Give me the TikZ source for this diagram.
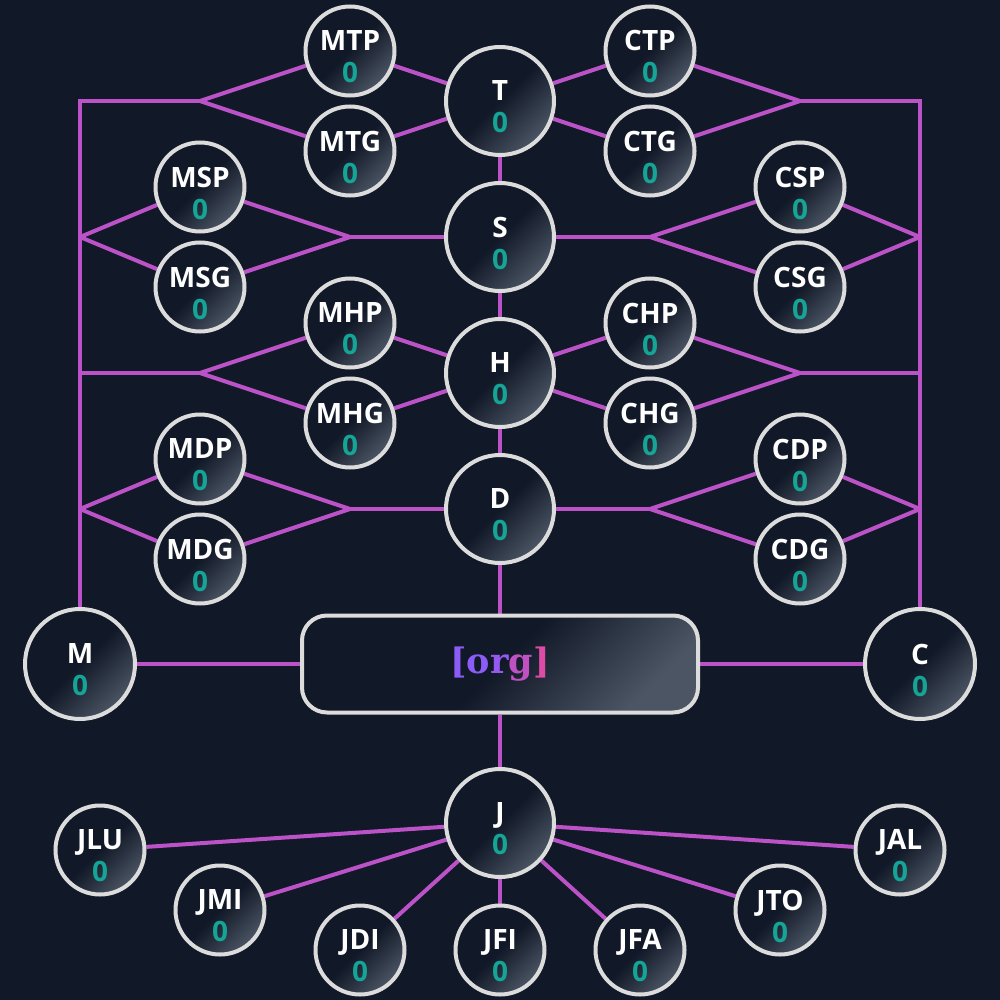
\documentclass[tikz,border=0pt]{standalone}
\usepackage{fontspec}
\setmainfont{Open Sans}
\newfontfamily\orgfont{DejaVu Serif}
\usetikzlibrary{backgrounds}
\pgfdeclarelayer{back}
\pgfsetlayers{back,background,main}
\definecolor{bgc}{HTML}{111827}
\definecolor{ring}{HTML}{DCDCDC}
\definecolor{shine}{HTML}{4B5563}
\definecolor{num}{HTML}{14A597}
\definecolor{wirec}{HTML}{BB52C8}
\definecolor{violet}{HTML}{8B5CF6}
\definecolor{rose}{HTML}{EC4899}
\tikzset{
  lbl/.style={text=white, font=\bfseries\fontsize{28}{32}\selectfont, align=center, yshift=-6pt},
  unit/.style={circle, draw=ring, line width=4pt, minimum size=89pt, inner sep=0pt,
    top color=bgc, bottom color=shine, middle color=bgc, shading angle=45,
    label={[lbl]center:{#1\\\textcolor{num}{0}}}},
  hub/.style={unit=#1, minimum size=108pt},
  wire/.style={draw=wirec, line width=4pt}
}
\begin{document}
\begin{tikzpicture}[x=1pt,y=-1pt]
\begin{pgfonlayer}{back}
\fill[bgc] (0,0) rectangle (1000,1000);
\end{pgfonlayer}
\useasboundingbox (0,0) rectangle (1000,1000);

% spine
\node[hub=T] (t) at (500,101) {};
\node[hub=S] (s) at (500,237) {};
\node[hub=H] (h) at (500,373) {};
\node[hub=D] (d) at (500,509) {};
\node[hub=J] (j) at (500,823) {};
\node[hub=M, minimum size=110pt] (m) at (80,664) {};
\node[hub=C, minimum size=110pt] (c) at (920,664) {};
\node[draw=ring, line width=4pt, rounded corners=25pt, minimum width=396pt, minimum height=97pt,
  top color=bgc, bottom color=shine, middle color=bgc, shading angle=45,
  font=\orgfont\bfseries\fontsize{35}{42}\selectfont] (org) at (500,664)
  {\textcolor{violet}{[o}\textcolor{violet!90!rose}{r}\textcolor{violet!45!rose}{g}\textcolor{violet!15!rose}{]}};

% left wing
\node[unit=MTP] (mtp) at (350,51) {};
\node[unit=MTG] (mtg) at (350,151) {};
\node[unit=MSP] (msp) at (200,187) {};
\node[unit=MSG] (msg) at (200,287) {};
\node[unit=MHP] (mhp) at (350,323) {};
\node[unit=MHG] (mhg) at (350,423) {};
\node[unit=MDP] (mdp) at (200,459) {};
\node[unit=MDG] (mdg) at (200,559) {};

% right wing
\node[unit=CTP] (ctp) at (650,51) {};
\node[unit=CTG] (ctg) at (650,151) {};
\node[unit=CSP] (csp) at (800,187) {};
\node[unit=CSG] (csg) at (800,287) {};
\node[unit=CHP] (chp) at (650,323) {};
\node[unit=CHG] (chg) at (650,423) {};
\node[unit=CDP] (cdp) at (800,459) {};
\node[unit=CDG] (cdg) at (800,559) {};

% bottom fan
\node[unit=JLU] (jlu) at (100,850) {};
\node[unit=JMI] (jmi) at (220,910) {};
\node[unit=JDI] (jdi) at (360,950) {};
\node[unit=JFI] (jfi) at (500,950) {};
\node[unit=JFA] (jfa) at (640,950) {};
\node[unit=JTO] (jto) at (780,910) {};
\node[unit=JAL] (jal) at (900,850) {};

% junctions
\coordinate (tl) at (200,101);
\coordinate (tr) at (800,101);
\coordinate (sl) at (350,237);
\coordinate (sr) at (650,237);
\coordinate (hl) at (200,373);
\coordinate (hr) at (800,373);
\coordinate (dl) at (350,509);
\coordinate (dr) at (650,509);
\coordinate (ml1) at (80,101);
\coordinate (ml2) at (80,237);
\coordinate (ml3) at (80,373);
\coordinate (ml4) at (80,509);
\coordinate (mr1) at (920,101);
\coordinate (mr2) at (920,237);
\coordinate (mr3) at (920,373);
\coordinate (mr4) at (920,509);

\begin{scope}[on background layer]
\draw[wire] (t) -- (s) -- (h) -- (d) -- (org) -- (j);
\draw[wire] (m) -- (org) -- (c);
\draw[wire] (m) -- (ml1) -- (tl);
\draw[wire] (c) -- (mr1) -- (tr);

\draw[wire] (tl) -- (mtp) -- (t);
\draw[wire] (tl) -- (mtg) -- (t);
\draw[wire] (t) -- (ctp) -- (tr);
\draw[wire] (t) -- (ctg) -- (tr);

\draw[wire] (s) -- (sl);
\draw[wire] (sl) -- (msp) -- (ml2);
\draw[wire] (sl) -- (msg) -- (ml2);
\draw[wire] (s) -- (sr);
\draw[wire] (sr) -- (csp) -- (mr2);
\draw[wire] (sr) -- (csg) -- (mr2);

\draw[wire] (ml3) -- (hl);
\draw[wire] (hl) -- (mhp) -- (h);
\draw[wire] (hl) -- (mhg) -- (h);
\draw[wire] (h) -- (chp) -- (hr);
\draw[wire] (h) -- (chg) -- (hr);
\draw[wire] (hr) -- (mr3);

\draw[wire] (d) -- (dl);
\draw[wire] (dl) -- (mdp) -- (ml4);
\draw[wire] (dl) -- (mdg) -- (ml4);
\draw[wire] (d) -- (dr);
\draw[wire] (dr) -- (cdp) -- (mr4);
\draw[wire] (dr) -- (cdg) -- (mr4);

\draw[wire] (j) -- (jlu);
\draw[wire] (j) -- (jmi);
\draw[wire] (j) -- (jdi);
\draw[wire] (j) -- (jfi);
\draw[wire] (j) -- (jfa);
\draw[wire] (j) -- (jto);
\draw[wire] (j) -- (jal);
\end{scope}
\end{tikzpicture}
\end{document}
